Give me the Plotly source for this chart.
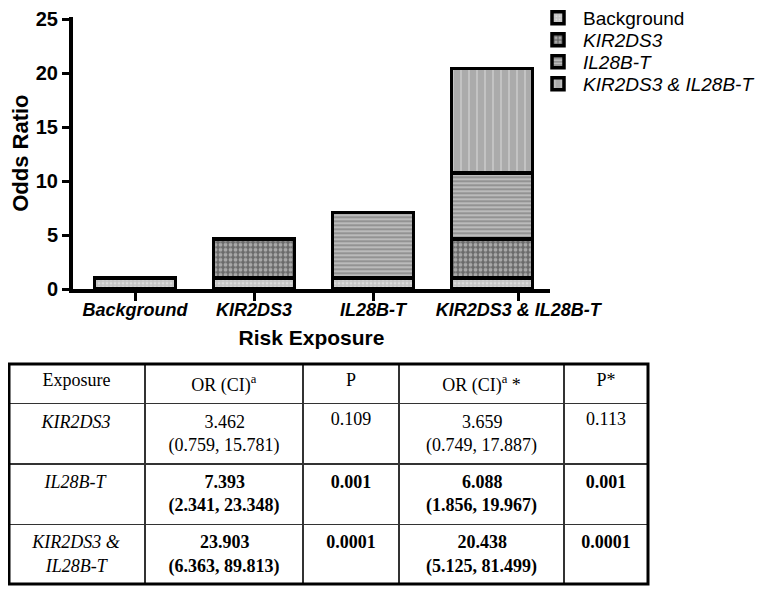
import plotly.graph_objects as go

# ---------------- data ----------------
categories = ["Background", "KIR2DS3", "IL28B-T", "KIR2DS3 & IL28B-T"]
cat_labels = ["<i>Background</i>", "<i>KIR2DS3</i>", "<i>IL28B-T</i>", "<i>KIR2DS3 & IL28B-T</i>"]
bar_pos = [0, 1, 2, 3]
tick_pos = [0, 1, 2, 3.22]
seg_background = [1.0, 1.0, 1.0, 1.0]
seg_kir = [None, 3.659, None, 3.659]
seg_il28 = [None, None, 6.088, 6.088]
seg_combined = [None, None, None, 9.691]
series_names = ["Background", "<i>KIR2DS3</i>", "<i>IL28B-T</i>", "<i>KIR2DS3 & IL28B-T</i>"]
y_ticks = [0, 5, 10, 15, 20, 25]

NB = "\u00a0"
table_header = ["Exposure", "OR (CI)<sup>a</sup>", "P", "OR (CI)<sup>a</sup> *", "P*"]
col_exposure = ["<i>KIR2DS3</i>", "<i>IL28B-T</i>", "<i>KIR2DS3 &<br>" + NB * 3 + "IL28B-T</i>"]
col_or = [NB * 8 + "3.462<br>(0.759, 15.781)",
          "<b>" + NB * 8 + "7.393<br>(2.341, 23.348)</b>",
          "<b>" + NB * 7 + "23.903<br>(6.363, 89.813)</b>"]
col_p = ["0.109", "<b>0.001</b>", "<b>0.0001</b>"]
col_or_adj = [NB * 8 + "3.659<br>(0.749, 17.887)",
              "<b>" + NB * 8 + "6.088<br>(1.856, 19.967)</b>",
              "<b>" + NB * 7 + "20.438<br>(5.125, 81.499)</b>"]
col_p_adj = ["0.113", "<b>0.001</b>", "<b>0.0001</b>"]

W, H = 784, 589
OFF = 8  # page body margin
SANS = "Liberation Sans, Arial, sans-serif"
SERIF = "Liberation Serif, Times New Roman, serif"


def fx(sx):
    return max(0.0, (sx - OFF) / W)


def fy(sy):
    return min(1.0, 1 - (sy - OFF) / H)


patterns = [
    dict(shape=".", fgcolor="#f2f2f2", bgcolor="#c4c4c4", size=4, solidity=0.35),
    dict(shape=".", fgcolor="#e6e6e6", bgcolor="#6a6a6a", size=5, solidity=0.45),
    dict(shape="-", fgcolor="#f8f8f8", bgcolor="#939393", size=4, solidity=0.4),
    dict(shape="|", fgcolor="#dcdcdc", bgcolor="#ababab", size=8, solidity=0.25),
]
segments = [seg_background, seg_kir, seg_il28, seg_combined]
legend_ids = ["legend", "legend2", "legend3", "legend4"]

fig = go.Figure()
for name, vals, pat, lg in zip(series_names, segments, patterns, legend_ids):
    fig.add_trace(go.Bar(
        x=bar_pos, y=vals, name=name, width=0.68, legend=lg,
        marker=dict(color=pat["bgcolor"], pattern=pat,
                    line=dict(color="black", width=3.5)),
    ))

TABLE_TOP, TABLE_BOTTOM = 364, 584
fig.add_trace(go.Table(
    domain=dict(x=[fx(4), fx(648)], y=[fy(TABLE_BOTTOM), fy(TABLE_TOP)]),
    columnwidth=[137, 158, 96, 165, 84],
    header=dict(values=table_header, height=35, align="center",
                fill_color="white", line=dict(color="#333", width=1.3),
                font=dict(family=SERIF, size=18, color="black")),
    cells=dict(values=[col_exposure, col_or, col_p, col_or_adj, col_p_adj],
               height=60, align="center", fill_color="white",
               line=dict(color="#333", width=1.3),
               font=dict(family=SERIF, size=18, color="black")),
))

# outer thick border of table
fig.add_shape(type="rect", xref="paper", yref="paper",
              x0=fx(4) + 1 / W, x1=fx(648), y0=fy(TABLE_BOTTOM), y1=fy(TABLE_TOP),
              line=dict(color="black", width=3))

legend_centers = [18, 40, 62, 84]
legend_layouts = {}
for lg, cy in zip(legend_ids, legend_centers):
    legend_layouts[lg] = dict(
        xref="paper", yref="paper", x=fx(533), y=fy(cy),
        xanchor="left", yanchor="middle",
        font=dict(family=SANS, size=19, color="black"),
        bgcolor="rgba(0,0,0,0)", itemwidth=40)

fig.update_layout(
    width=W, height=H,
    margin=dict(l=0, r=0, t=0, b=0, autoexpand=False),
    paper_bgcolor="white", plot_bgcolor="white",
    barmode="stack",
    showlegend=True,
    font=dict(family=SANS, color="black"),
    xaxis=dict(domain=[fx(73), fx(550)], range=[-0.521, 3.487],
               tickmode="array", tickvals=tick_pos, ticktext=cat_labels,
               tickangle=0,
               showline=True, linecolor="black", linewidth=4,
               ticks="outside", ticklen=8, tickwidth=3, tickcolor="black",
               ticklabelstandoff=-7,
               tickfont=dict(family=SANS, size=18, color="black", weight="bold"),
               title=dict(text="<b>Risk Exposure</b>", standoff=13,
                          font=dict(family=SANS, size=21, color="black")),
               showgrid=False, zeroline=False, automargin=False, anchor="y"),
    yaxis=dict(domain=[fy(289), fy(17.3)], range=[0, 25.2],
               tickmode="array", tickvals=y_ticks,
               showline=True, linecolor="black", linewidth=4,
               ticks="outside", ticklen=7, tickwidth=3, tickcolor="black",
               ticklabeloverflow="allow",
               tickfont=dict(family=SANS, size=20, color="black", weight="bold"),
               title=dict(text="<b>Odds Ratio</b>", standoff=8,
                          font=dict(family=SANS, size=22, color="black")),
               showgrid=False, zeroline=False, automargin=False, anchor="x"),
    **legend_layouts,
)

fig.write_html("out.html")
